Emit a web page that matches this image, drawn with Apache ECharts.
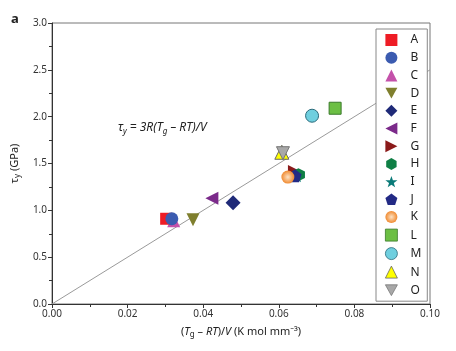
<!DOCTYPE html>
<html>
<head>
<meta charset="utf-8">
<script src="https://cdn.jsdelivr.net/npm/echarts@6/dist/echarts.min.js"></script>
<style>
  html, body { margin: 0; padding: 0; background: #fff; }
  #main { width: 456px; height: 351px; }
</style>
</head>
<body>
<div id="main"></div>
<script>
// 数据
var names = ['A', 'B', 'C', 'D', 'E', 'F', 'G', 'H', 'I', 'J', 'K', 'L', 'M', 'N', 'O']
var xVals = [0.0302, 0.0317, 0.0322, 0.0373, 0.0479, 0.0423, 0.0640, 0.0652, 0.0648, 0.0643, 0.0624, 0.0749, 0.0688, 0.0608, 0.0611]
var yVals = [0.91, 0.91, 0.89, 0.90, 1.08, 1.13, 1.42, 1.38, 1.37, 1.37, 1.355, 2.09, 2.01, 1.62, 1.61]
var fitX = [0, 0.1]
var fitY = [0, 2.5]
var xTicks = ['0.00', '0.02', '0.04', '0.06', '0.08', '0.10']
var yTicks = ['0.0', '0.5', '1.0', '1.5', '2.0', '2.5', '3.0']

// 样式
var symbols = [
  'rect', 'circle', 'triangle',
  'path://M0,0L10,0L5,9z',
  'diamond',
  'path://M10,0L10,10L0,5z',
  'path://M0,0L0,10L10,5z',
  'path://M5,0L9.33,2.5L9.33,7.5L5,10L0.67,7.5L0.67,2.5z',
  'path://M5,0L6.18,3.38L9.76,3.45L6.9,5.62L7.94,9.05L5,7L2.06,9.05L3.1,5.62L0.24,3.45L3.82,3.38Z',
  'path://M5,0L9.76,3.45L7.94,9.05L2.06,9.05L0.24,3.45Z',
  'circle', 'rect', 'circle', 'triangle',
  'path://M0,0L10,0L5,9z'
]
var colors = ['#ee1c25', '#3b5bb0', '#c451aa', '#7f7f2e', '#1f2a78', '#7b2a8a', '#8b1a1a', '#0f7f45',
  '#0a7a78', '#232a85',
  {type: 'radial', x: 0.5, y: 0.5, r: 0.5, colorStops: [{offset: 0, color: '#fde2c4'}, {offset: 1, color: '#f08a30'}]},
  '#6cbf44', '#6fcfdf', '#ffff00', '#a8a8a8']
var borders = ['', '', '', '', '', '', '', '', '', '', '', '#3a7a2a', '#2a6a7a', '#666', '#777']
var sizes = [12, 13, 13, 13, 15, 13, 12, 13, 13, 13, 13, 12, 13, 14, 13]
var zs = [2, 3, 1, 2, 2, 2, 2, 3, 2, 3, 4, 2, 2, 2, 3]

var font = 'Noto Sans'

var series = names.map(function (n, i) {
  return {
    name: n,
    type: 'scatter',
    z: zs[i],
    symbol: symbols[i],
    symbolSize: sizes[i],
    itemStyle: {
      color: colors[i],
      borderColor: borders[i] || null,
      borderWidth: borders[i] ? 1 : 0,
      opacity: 1
    },
    data: [[xVals[i], yVals[i]]]
  }
})

series.unshift({
  type: 'line',
  z: 1,
  silent: true,
  symbol: 'none',
  lineStyle: {color: '#9a9a9a', width: 1},
  data: fitX.map(function (x, i) { return [x, fitY[i]] })
})

var option = {
  animation: false,
  textStyle: {fontFamily: font},
  grid: {left: 52, right: 26, top: 23, bottom: 47, show: true, borderColor: '#777', borderWidth: 1},
  title: {
    text: 'a', left: 6, top: 8,
    textStyle: {fontFamily: font, fontSize: 13, fontWeight: 'bold', color: '#222'}
  },
  legend: {
    data: names,
    orient: 'vertical',
    left: 376, top: 29,
    padding: [5, 6, 5, 9],
    itemWidth: 12, itemHeight: 12,
    itemGap: 5.7,
    backgroundColor: '#fff',
    borderColor: '#888', borderWidth: 1,
    itemStyle: {borderWidth: 0.8},
    textStyle: {fontFamily: font, fontSize: 12, color: '#222', padding: [0, 0, 0, 8]}
  },
  xAxis: {
    type: 'value', min: 0, max: 0.1, interval: 0.02,
    name: '{n|(}{i|T}{s|g}{n| – }{i|RT}{n|)/}{i|V}{n| (K mol mm⁻³)}',
    nameLocation: 'middle', nameGap: 21,
    nameTextStyle: {
      rich: {
        n: {fontFamily: font, fontSize: 11, color: '#222'},
        i: {fontFamily: font, fontSize: 11, fontStyle: 'italic', color: '#222'},
        s: {fontFamily: font, fontSize: 8, color: '#222', verticalAlign: 'bottom', padding: [6, 0, 0, 0]}
      }
    },
    splitLine: {show: false},
    axisLine: {lineStyle: {color: '#333'}},
    axisTick: {length: 4, lineStyle: {color: '#333'}},
    minorTick: {show: true, splitNumber: 2, length: 3, lineStyle: {color: '#333'}},
    axisLabel: {
      fontFamily: font, fontSize: 10, color: '#333', margin: 5,
      formatter: function (v) { return xTicks[Math.round(v / 0.02)] }
    }
  },
  yAxis: {
    type: 'value', min: 0, max: 3, interval: 0.5,
    name: '{i|τ}{s|y}{n| (GPa)}',
    nameLocation: 'middle', nameGap: 29,
    nameTextStyle: {
      rich: {
        n: {fontFamily: font, fontSize: 11, color: '#222'},
        i: {fontFamily: font, fontSize: 11, color: '#222'},
        s: {fontFamily: font, fontSize: 8, color: '#222', verticalAlign: 'bottom', padding: [6, 0, 0, 0]}
      }
    },
    splitLine: {show: false},
    axisLine: {show: true, lineStyle: {color: '#333'}},
    axisTick: {show: true, length: 4, lineStyle: {color: '#333'}},
    minorTick: {show: true, splitNumber: 2, length: 3, lineStyle: {color: '#333'}},
    axisLabel: {
      fontFamily: font, fontSize: 10, color: '#333', margin: 5,
      formatter: function (v) { return yTicks[Math.round(v / 0.5)] }
    }
  },
  graphic: [{
    type: 'text', left: 118, top: 122,
    style: {
      text: '{i|τ}{s|y}{n| = 3}{i|R}{n|(}{i|T}{s|g}{n| – }{i|RT}{n|)/}{i|V}',
      rich: {
        n: {fontFamily: font, fontSize: 12, fontStyle: 'italic', fill: '#222'},
        i: {fontFamily: font, fontSize: 12, fontStyle: 'italic', fill: '#222'},
        s: {fontFamily: font, fontSize: 8, fontStyle: 'italic', fill: '#222', verticalAlign: 'bottom', padding: [8, 0, 0, 0]}
      }
    }
  }],
  series: series
}

var myChart = echarts.init(document.getElementById('main'))
myChart.setOption(option)
</script>
</body>
</html>
